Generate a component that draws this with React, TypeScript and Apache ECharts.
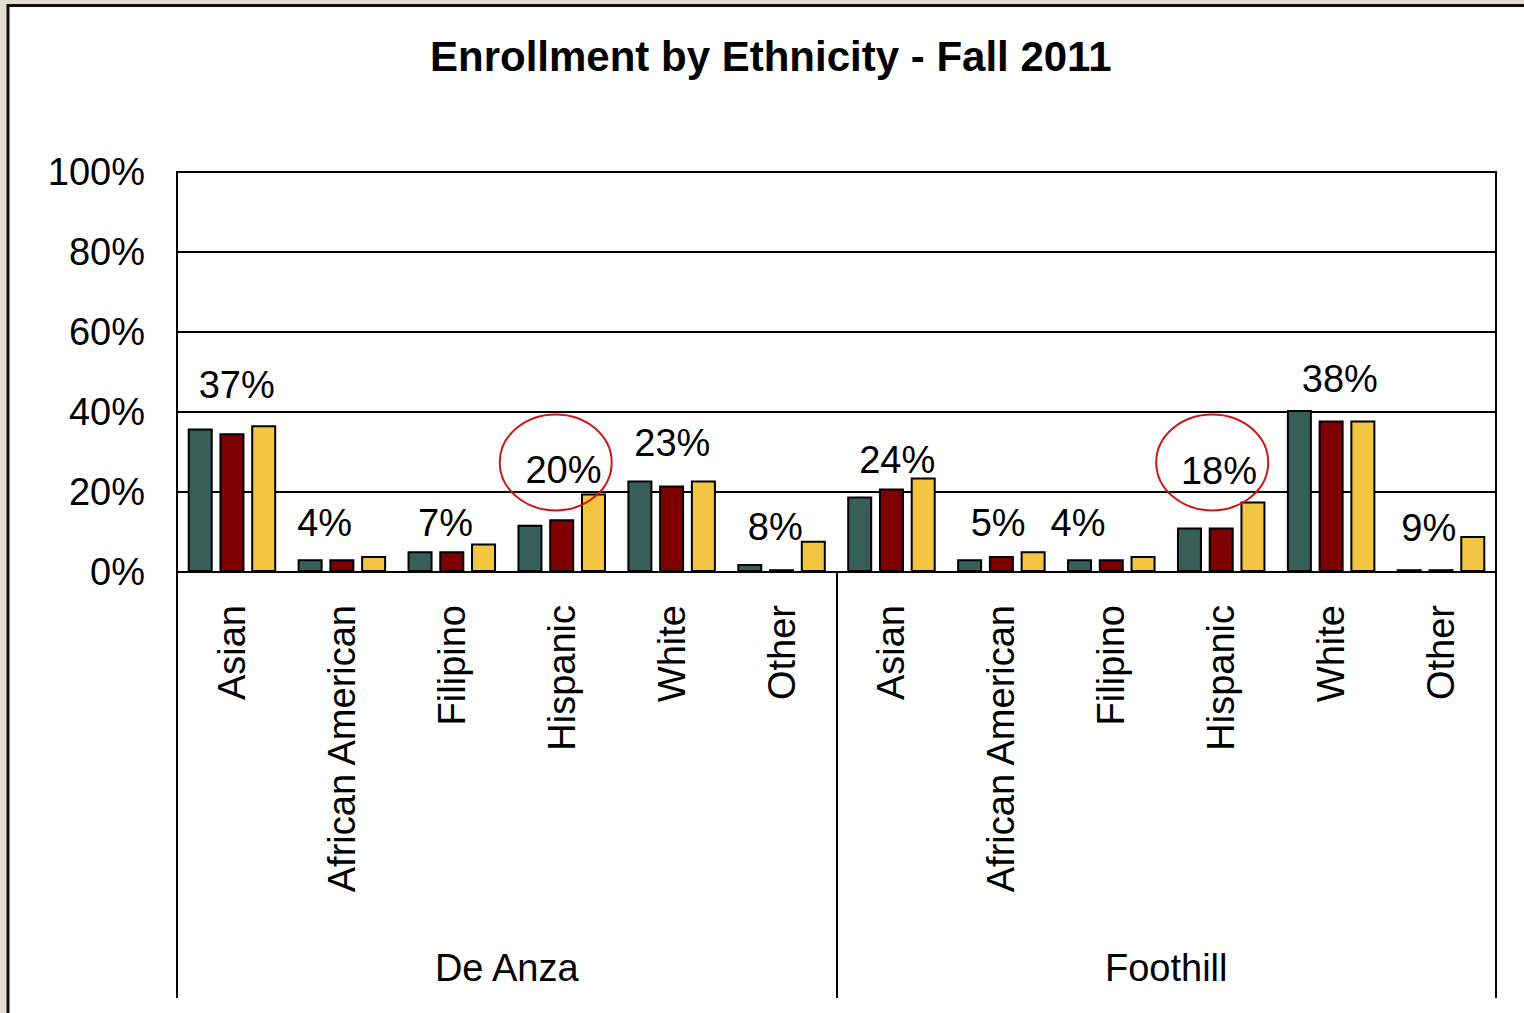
import React, { useEffect, useRef } from "react";
import * as echarts from "echarts";

const categories = [
  "Asian", "African American", "Filipino", "Hispanic", "White", "Other",
  "Asian", "African American", "Filipino", "Hispanic", "White", "Other",
];
const campuses = ["De Anza", "Foothill"];
const yTicks = [0, 20, 40, 60, 80, 100];

const greenValues = [35.9, 3.2, 5.2, 11.8, 22.9, 2.0, 18.9, 3.2, 3.2, 11.1, 40.5, 0.7];
const redValues = [34.7, 3.2, 5.2, 13.2, 21.6, 0.7, 20.9, 4.0, 3.2, 11.1, 37.9, 0.7];
const yellowValues = [36.7, 4.0, 7.1, 19.6, 22.9, 7.8, 23.6, 5.2, 4.0, 17.6, 37.9, 9.0];

// label placement tweaks (styling only)
const labelOffsets = [
  [-27, -21], [-49, -14], [-38, -2], [-30, -5], [-31, -18], [-38, 5],
  [-26, 1], [-35, -9], [-65, -14], [-34, -12], [-23, -22], [-44, 11],
];

const FONT = "'Liberation Sans', Arial, Helvetica, sans-serif";
const FS = 38;

export default function App() {
  const ref = useRef<HTMLDivElement>(null);
  useEffect(() => {
    if (!ref.current) return;
    const chart = echarts.init(ref.current, null, { renderer: "svg" });
    const barStyle = (color: string) => ({
      color,
      borderColor: "#000",
      borderWidth: 2,
    });
    chart.setOption({
      animation: false,
      backgroundColor: "#E8DDD2",
      title: {
        text: "Enrollment by Ethnicity - Fall 2011",
        left: 425,
        top: 30,
        textStyle: { fontFamily: FONT, fontSize: 42, fontWeight: "bold", color: "#000" },
      },
      grid: {
        left: 177,
        right: 28,
        top: 172,
        bottom: 441,
        show: true,
        borderColor: "#000",
        borderWidth: 2,
        backgroundColor: "transparent",
        containLabel: false,
      },
      xAxis: [
        {
          type: "category",
          data: categories,
          position: "bottom",
          axisLine: { show: true, lineStyle: { color: "#000", width: 2 } },
          axisTick: { show: false },
          axisLabel: {
            rotate: 90,
            margin: 33,
            interval: 0,
            fontFamily: FONT,
            fontSize: FS,
            color: "#000",
          },
        },
        {
          type: "category",
          data: campuses,
          position: "bottom",
          axisLine: { show: false },
          axisTick: { show: true, length: 426, lineStyle: { color: "#000", width: 2 } },
          axisLabel: {
            margin: 377,
            interval: 0,
            fontFamily: FONT,
            fontSize: FS,
            color: "#000",
          },
        },
      ],
      yAxis: {
        type: "value",
        min: yTicks[0],
        max: yTicks[yTicks.length - 1],
        interval: 20,
        axisLine: { show: true, lineStyle: { color: "#000", width: 2 } },
        axisTick: { show: false },
        splitLine: { show: true, lineStyle: { color: "#000", width: 2 } },
        axisLabel: {
          formatter: "{value}%",
          margin: 32,
          fontFamily: FONT,
          fontSize: FS,
          color: "#000",
        },
      },
      series: [
        {
          name: "Series 1",
          type: "bar",
          data: greenValues,
          barWidth: 25,
          barGap: "27%",
          itemStyle: barStyle("#355F57"),
        },
        {
          name: "Series 2",
          type: "bar",
          data: redValues,
          barWidth: 25,
          barGap: "27%",
          itemStyle: barStyle("#7F0000"),
        },
        {
          name: "Series 3",
          type: "bar",
          barWidth: 25,
          barGap: "27%",
          itemStyle: barStyle("#F4C542"),
          data: yellowValues.map((v, i) => ({
            value: v,
            label: { offset: labelOffsets[i] },
          })),
          label: {
            show: true,
            position: "top",
            distance: 0,
            fontFamily: FONT,
            fontSize: FS,
            color: "#000",
            formatter: (p: any) => Math.round(p.value) + "%",
          },
        },
      ],
      graphic: [
        {
          id: "frame",
          type: "rect",
          z: -100,
          silent: true,
          shape: { x: 8, y: 5.5, width: 1600, height: 1100 },
          style: { fill: "#fff", stroke: "#111", lineWidth: 3 },
        },
      ],
    });

    const e1 = chart.convertToPixel({ xAxisIndex: 0, yAxisIndex: 0 }, [3, 27.4]) as number[];
    const e2 = chart.convertToPixel({ xAxisIndex: 0, yAxisIndex: 0 }, [9, 27.4]) as number[];
    chart.setOption({
      graphic: [
        {
          id: "frame",
          type: "rect",
          z: -100,
          silent: true,
          shape: { x: 8, y: 5.5, width: 1600, height: 1100 },
          style: { fill: "#fff", stroke: "#111", lineWidth: 3 },
        },
        {
          id: "ell1",
          type: "ellipse",
          z: 100,
          silent: true,
          shape: { cx: e1[0] - 6, cy: e1[1], rx: 56, ry: 48 },
          style: { fill: "none", stroke: "#C81818", lineWidth: 2 },
        },
        {
          id: "ell2",
          type: "ellipse",
          z: 100,
          silent: true,
          shape: { cx: e2[0] - 9, cy: e2[1], rx: 56, ry: 48 },
          style: { fill: "none", stroke: "#C81818", lineWidth: 2 },
        },
      ],
    });
    return () => chart.dispose();
  }, []);
  return (
    <div
      ref={ref}
      style={{ position: "absolute", left: 0, top: 0, width: 1524, height: 1013 }}
    />
  );
}
